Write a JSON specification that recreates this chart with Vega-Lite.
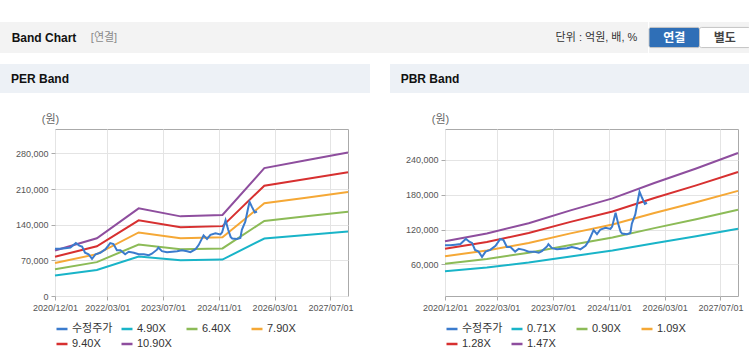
{
  "$schema": "https://vega.github.io/schema/vega-lite/v6.json",
  "background": "#ffffff",
  "padding": {"top": 22, "left": 0, "right": 0, "bottom": 0},
  "config": {
    "font": "Liberation Sans, Noto Sans CJK KR",
    "view": {"stroke": null}
  },
  "datasets": {
    "price": [
      {"date": "2020/12/01", "value": 93000},
      {"date": "2021/01/15", "value": 93000},
      {"date": "2021/03/01", "value": 94000},
      {"date": "2021/04/15", "value": 95000},
      {"date": "2021/06/01", "value": 104000},
      {"date": "2021/07/01", "value": 99000},
      {"date": "2021/07/25", "value": 97000},
      {"date": "2021/08/20", "value": 85000},
      {"date": "2021/09/20", "value": 82000},
      {"date": "2021/10/20", "value": 73000},
      {"date": "2021/11/20", "value": 82000},
      {"date": "2021/12/31", "value": 85000},
      {"date": "2022/02/15", "value": 92000},
      {"date": "2022/03/28", "value": 104000},
      {"date": "2022/04/25", "value": 102000},
      {"date": "2022/05/25", "value": 90000},
      {"date": "2022/06/25", "value": 90000},
      {"date": "2022/08/05", "value": 82000},
      {"date": "2022/09/05", "value": 87000},
      {"date": "2022/10/20", "value": 85000},
      {"date": "2022/12/01", "value": 82000},
      {"date": "2023/01/15", "value": 82000},
      {"date": "2023/02/27", "value": 80000},
      {"date": "2023/03/26", "value": 83000},
      {"date": "2023/05/10", "value": 91000},
      {"date": "2023/05/22", "value": 95000},
      {"date": "2023/06/22", "value": 88000},
      {"date": "2023/08/05", "value": 86000},
      {"date": "2023/09/20", "value": 87000},
      {"date": "2023/11/01", "value": 88000},
      {"date": "2023/12/13", "value": 90000},
      {"date": "2024/01/28", "value": 88000},
      {"date": "2024/02/25", "value": 86000},
      {"date": "2024/04/10", "value": 92000},
      {"date": "2024/05/07", "value": 100000},
      {"date": "2024/06/19", "value": 119000},
      {"date": "2024/07/19", "value": 112000},
      {"date": "2024/08/18", "value": 120000},
      {"date": "2024/10/01", "value": 123000},
      {"date": "2024/11/13", "value": 121000},
      {"date": "2024/11/28", "value": 125000},
      {"date": "2024/12/28", "value": 149000},
      {"date": "2025/01/20", "value": 130000},
      {"date": "2025/02/10", "value": 116000},
      {"date": "2025/02/24", "value": 113000},
      {"date": "2025/04/07", "value": 112000},
      {"date": "2025/05/06", "value": 114000},
      {"date": "2025/05/19", "value": 130000},
      {"date": "2025/06/18", "value": 146000},
      {"date": "2025/07/12", "value": 172000},
      {"date": "2025/07/25", "value": 185000},
      {"date": "2025/08/15", "value": 175000},
      {"date": "2025/09/09", "value": 164000},
      {"date": "2025/09/28", "value": 166000}
    ],
    "perBands": [
      {"date": "2020/12/01", "series": "4.90X", "value": 40180},
      {"date": "2021/12/01", "series": "4.90X", "value": 50960},
      {"date": "2022/12/01", "series": "4.90X", "value": 77420},
      {"date": "2023/12/01", "series": "4.90X", "value": 70320},
      {"date": "2024/12/01", "series": "4.90X", "value": 71540},
      {"date": "2025/12/01", "series": "4.90X", "value": 112950},
      {"date": "2026/12/01", "series": "4.90X", "value": 119810},
      {"date": "2027/12/01", "series": "4.90X", "value": 126670},
      {"date": "2020/12/01", "series": "6.40X", "value": 52480},
      {"date": "2021/12/01", "series": "6.40X", "value": 66560},
      {"date": "2022/12/01", "series": "6.40X", "value": 101120},
      {"date": "2023/12/01", "series": "6.40X", "value": 91840},
      {"date": "2024/12/01", "series": "6.40X", "value": 93440},
      {"date": "2025/12/01", "series": "6.40X", "value": 147520},
      {"date": "2026/12/01", "series": "6.40X", "value": 156480},
      {"date": "2027/12/01", "series": "6.40X", "value": 165440},
      {"date": "2020/12/01", "series": "7.90X", "value": 64780},
      {"date": "2021/12/01", "series": "7.90X", "value": 82160},
      {"date": "2022/12/01", "series": "7.90X", "value": 124820},
      {"date": "2023/12/01", "series": "7.90X", "value": 113370},
      {"date": "2024/12/01", "series": "7.90X", "value": 115340},
      {"date": "2025/12/01", "series": "7.90X", "value": 182100},
      {"date": "2026/12/01", "series": "7.90X", "value": 193160},
      {"date": "2027/12/01", "series": "7.90X", "value": 204220},
      {"date": "2020/12/01", "series": "9.40X", "value": 77080},
      {"date": "2021/12/01", "series": "9.40X", "value": 97760},
      {"date": "2022/12/01", "series": "9.40X", "value": 148520},
      {"date": "2023/12/01", "series": "9.40X", "value": 134890},
      {"date": "2024/12/01", "series": "9.40X", "value": 137240},
      {"date": "2025/12/01", "series": "9.40X", "value": 216670},
      {"date": "2026/12/01", "series": "9.40X", "value": 229830},
      {"date": "2027/12/01", "series": "9.40X", "value": 242990},
      {"date": "2020/12/01", "series": "10.90X", "value": 89380},
      {"date": "2021/12/01", "series": "10.90X", "value": 113360},
      {"date": "2022/12/01", "series": "10.90X", "value": 172220},
      {"date": "2023/12/01", "series": "10.90X", "value": 156420},
      {"date": "2024/12/01", "series": "10.90X", "value": 159140},
      {"date": "2025/12/01", "series": "10.90X", "value": 251250},
      {"date": "2026/12/01", "series": "10.90X", "value": 266510},
      {"date": "2027/12/01", "series": "10.90X", "value": 281770}
    ],
    "pbrBands": [
      {"date": "2020/12/01", "series": "0.71X", "value": 48280},
      {"date": "2021/12/01", "series": "0.71X", "value": 54670},
      {"date": "2022/12/01", "series": "0.71X", "value": 63190},
      {"date": "2023/12/01", "series": "0.71X", "value": 73840},
      {"date": "2024/12/01", "series": "0.71X", "value": 83780},
      {"date": "2025/12/01", "series": "0.71X", "value": 96560},
      {"date": "2026/12/01", "series": "0.71X", "value": 108630},
      {"date": "2027/12/01", "series": "0.71X", "value": 121410},
      {"date": "2020/12/01", "series": "0.90X", "value": 61200},
      {"date": "2021/12/01", "series": "0.90X", "value": 69300},
      {"date": "2022/12/01", "series": "0.90X", "value": 80100},
      {"date": "2023/12/01", "series": "0.90X", "value": 93600},
      {"date": "2024/12/01", "series": "0.90X", "value": 106200},
      {"date": "2025/12/01", "series": "0.90X", "value": 122400},
      {"date": "2026/12/01", "series": "0.90X", "value": 137700},
      {"date": "2027/12/01", "series": "0.90X", "value": 153900},
      {"date": "2020/12/01", "series": "1.09X", "value": 74120},
      {"date": "2021/12/01", "series": "1.09X", "value": 83930},
      {"date": "2022/12/01", "series": "1.09X", "value": 97010},
      {"date": "2023/12/01", "series": "1.09X", "value": 113360},
      {"date": "2024/12/01", "series": "1.09X", "value": 128620},
      {"date": "2025/12/01", "series": "1.09X", "value": 148240},
      {"date": "2026/12/01", "series": "1.09X", "value": 166770},
      {"date": "2027/12/01", "series": "1.09X", "value": 186390},
      {"date": "2020/12/01", "series": "1.28X", "value": 87040},
      {"date": "2021/12/01", "series": "1.28X", "value": 98560},
      {"date": "2022/12/01", "series": "1.28X", "value": 113920},
      {"date": "2023/12/01", "series": "1.28X", "value": 133120},
      {"date": "2024/12/01", "series": "1.28X", "value": 151040},
      {"date": "2025/12/01", "series": "1.28X", "value": 174080},
      {"date": "2026/12/01", "series": "1.28X", "value": 195840},
      {"date": "2027/12/01", "series": "1.28X", "value": 218880},
      {"date": "2020/12/01", "series": "1.47X", "value": 99960},
      {"date": "2021/12/01", "series": "1.47X", "value": 113190},
      {"date": "2022/12/01", "series": "1.47X", "value": 130830},
      {"date": "2023/12/01", "series": "1.47X", "value": 152880},
      {"date": "2024/12/01", "series": "1.47X", "value": 173460},
      {"date": "2025/12/01", "series": "1.47X", "value": 199920},
      {"date": "2026/12/01", "series": "1.47X", "value": 224910},
      {"date": "2027/12/01", "series": "1.47X", "value": 251370}
    ],
    "buttons": [
      {"label": "연결", "row": "r"},
      {"label": "별도", "row": "r"}
    ]
  },
  "vconcat": [
    {
      "hconcat": [
        {
          "width": 88, "height": 31,
          "view": {"fill": "#f3f3f3", "stroke": null},
          "data": {"values": [{"t": "Band Chart"}]},
          "mark": {"type": "text", "fontWeight": "bold", "fontSize": 12, "color": "#111111"},
          "encoding": {"text": {"field": "t", "type": "nominal"}}
        },
        {
          "width": 32, "height": 31,
          "view": {"fill": "#f3f3f3", "stroke": null},
          "data": {"values": [{"t": "[연결]"}]},
          "mark": {"type": "text", "fontSize": 11, "color": "#8a8a8a"},
          "encoding": {"text": {"field": "t", "type": "nominal"}}
        },
        {
          "width": 425, "height": 31,
          "view": {"fill": "#f3f3f3", "stroke": null},
          "data": {"values": []},
          "mark": {"type": "text"}
        },
        {
          "width": 103, "height": 31,
          "view": {"fill": "#f3f3f3", "stroke": null},
          "data": {"values": [{"t": "단위 : 억원, 배, %"}]},
          "mark": {"type": "text", "fontSize": 11, "color": "#333333"},
          "encoding": {"text": {"field": "t", "type": "nominal"}}
        },
        {
          "width": 101, "height": 31,
          "view": {"fill": "#f3f3f3", "stroke": null},
          "data": {"name": "buttons"},
          "encoding": {
            "x": {"field": "label", "type": "nominal", "sort": null, "axis": null, "scale": {"paddingInner": 0, "paddingOuter": 0}},
            "y": {"field": "row", "type": "nominal", "axis": null, "scale": {"paddingOuter": 0.27, "paddingInner": 0}}
          },
          "layer": [
            {
              "mark": {"type": "rect", "stroke": "#c4c4c4", "strokeWidth": 1, "cornerRadius": 2},
              "encoding": {
                "fill": {"field": "label", "type": "nominal", "scale": {"domain": ["연결", "별도"], "range": ["#2f6fb7", "#ffffff"]}, "legend": null}
              }
            },
            {
              "mark": {"type": "text", "fontSize": 12, "fontWeight": "bold"},
              "encoding": {
                "text": {"field": "label", "type": "nominal"},
                "color": {"condition": {"test": "datum.label === '연결'", "value": "#ffffff"}, "value": "#444444"}
              }
            }
          ]
        }
      ],
      "spacing": 0
    },
    {
      "hconcat": [
        {
          "vconcat": [
            {
              "hconcat": [
                {
                  "width": 80, "height": 29,
                  "view": {"fill": "#edf1f6", "stroke": null},
                  "data": {"values": [{"t": "PER Band"}]},
                  "mark": {"type": "text", "fontWeight": "bold", "fontSize": 12, "color": "#111111"},
                  "encoding": {"text": {"field": "t", "type": "nominal"}}
                },
                {
                  "width": 290, "height": 29,
                  "view": {"fill": "#edf1f6", "stroke": null},
                  "data": {"values": []},
                  "mark": {"type": "text"}
                }
              ],
              "spacing": 0
            },
            {
              "hconcat": [
                {
                  "width": 1, "height": 1,
                  "data": {"values": []},
                  "mark": {"type": "text"}
                },
                {
                  "width": 293, "height": 167,
                  "view": {"stroke": "#aaaaaa", "fill": "#ffffff"},
                  "encoding": {
                    "x": {
                      "field": "date", "type": "temporal",
                      "scale": {"domain": [{"year": 2020, "month": 12, "date": 1}, {"year": 2027, "month": 12, "date": 1}]},
                      "axis": {
                        "values": [{"year": 2020, "month": 12, "date": 1}, {"year": 2022, "month": 3, "date": 1}, {"year": 2023, "month": 7, "date": 1}, {"year": 2024, "month": 11, "date": 1}, {"year": 2026, "month": 3, "date": 1}, {"year": 2027, "month": 7, "date": 1}],
                        "format": "%Y/%m/%d", "title": null, "domain": false,
                        "labelFontSize": 9, "labelColor": "#555555", "labelPadding": 3, "labelFlush": false, "labelOverlap": false,
                        "tickSize": 4, "tickColor": "#aaaaaa", "gridColor": "#e4e4e4"
                      }
                    },
                    "y": {
                      "field": "value", "type": "quantitative",
                      "scale": {"domain": [0, 328000], "nice": false, "zero": false},
                      "axis": {
                        "values": [0, 70000, 140000, 210000, 280000], "format": ",.0f", "domain": false,
                        "labelFontSize": 9, "labelColor": "#555555", "labelPadding": 3, "labelFlush": false,
                        "tickSize": 4, "tickColor": "#aaaaaa", "gridColor": "#e4e4e4",
                        "minExtent": 53, "maxExtent": 53,
                        "title": "(원)", "titleAngle": 0, "titleX": -5, "titleY": -7, "titleAlign": "center", "titleBaseline": "alphabetic",
                        "titleFontWeight": "normal", "titleFontSize": 11, "titleColor": "#666666"
                      }
                    }
                  },
                  "layer": [
                    {
                      "data": {"name": "perBands"},
                      "mark": {"type": "line", "strokeWidth": 2},
                      "encoding": {
                        "color": {
                          "field": "series", "type": "nominal",
                          "scale": {"domain": ["수정주가", "4.90X", "6.40X", "7.90X", "9.40X", "10.90X"], "range": ["#3b7bcd", "#19b4c8", "#8cbb57", "#f5a836", "#d73030", "#8e4e9e"]},
                          "legend": {
                            "orient": "bottom", "direction": "horizontal", "columns": 4, "title": null,
                            "symbolType": "stroke", "symbolSize": 121, "symbolStrokeWidth": 2.5,
                            "labelFontSize": 11, "labelColor": "#333333", "labelOffset": 3,
                            "gridAlign": "all", "columnPadding": 3, "rowPadding": 3, "offset": 10
                          }
                        }
                      }
                    },
                    {
                      "data": {"name": "price"},
                      "mark": {"type": "line", "strokeWidth": 2},
                      "encoding": {"color": {"datum": "수정주가", "type": "nominal"}}
                    }
                  ]
                }
              ],
              "spacing": 0,
              "resolve": {"scale": {"color": "independent"}}
            }
          ],
          "spacing": 19,
          "resolve": {"scale": {"color": "independent"}}
        },
        {
          "vconcat": [
            {
              "hconcat": [
                {
                  "width": 80, "height": 29,
                  "view": {"fill": "#edf1f6", "stroke": null},
                  "data": {"values": [{"t": "PBR Band"}]},
                  "mark": {"type": "text", "fontWeight": "bold", "fontSize": 12, "color": "#111111"},
                  "encoding": {"text": {"field": "t", "type": "nominal"}}
                },
                {
                  "width": 279, "height": 29,
                  "view": {"fill": "#edf1f6", "stroke": null},
                  "data": {"values": []},
                  "mark": {"type": "text"}
                }
              ],
              "spacing": 0
            },
            {
              "hconcat": [
                {
                  "width": 1, "height": 1,
                  "data": {"values": []},
                  "mark": {"type": "text"}
                },
                {
                  "width": 293, "height": 167,
                  "view": {"stroke": "#aaaaaa", "fill": "#ffffff"},
                  "encoding": {
                    "x": {
                      "field": "date", "type": "temporal",
                      "scale": {"domain": [{"year": 2020, "month": 12, "date": 1}, {"year": 2027, "month": 12, "date": 1}]},
                      "axis": {
                        "values": [{"year": 2020, "month": 12, "date": 1}, {"year": 2022, "month": 3, "date": 1}, {"year": 2023, "month": 7, "date": 1}, {"year": 2024, "month": 11, "date": 1}, {"year": 2026, "month": 3, "date": 1}, {"year": 2027, "month": 7, "date": 1}],
                        "format": "%Y/%m/%d", "title": null, "domain": false,
                        "labelFontSize": 9, "labelColor": "#555555", "labelPadding": 3, "labelFlush": false, "labelOverlap": false,
                        "tickSize": 4, "tickColor": "#aaaaaa", "gridColor": "#e4e4e4"
                      }
                    },
                    "y": {
                      "field": "value", "type": "quantitative",
                      "scale": {"domain": [5800, 292700], "nice": false, "zero": false},
                      "axis": {
                        "values": [60000, 120000, 180000, 240000], "format": ",.0f", "domain": false,
                        "labelFontSize": 9, "labelColor": "#555555", "labelPadding": 3, "labelFlush": false,
                        "tickSize": 4, "tickColor": "#aaaaaa", "gridColor": "#e4e4e4",
                        "minExtent": 53, "maxExtent": 53,
                        "title": "(원)", "titleAngle": 0, "titleX": -5, "titleY": -7, "titleAlign": "center", "titleBaseline": "alphabetic",
                        "titleFontWeight": "normal", "titleFontSize": 11, "titleColor": "#666666"
                      }
                    }
                  },
                  "layer": [
                    {
                      "data": {"name": "pbrBands"},
                      "mark": {"type": "line", "strokeWidth": 2},
                      "encoding": {
                        "color": {
                          "field": "series", "type": "nominal",
                          "scale": {"domain": ["수정주가", "0.71X", "0.90X", "1.09X", "1.28X", "1.47X"], "range": ["#3b7bcd", "#19b4c8", "#8cbb57", "#f5a836", "#d73030", "#8e4e9e"]},
                          "legend": {
                            "orient": "bottom", "direction": "horizontal", "columns": 4, "title": null,
                            "symbolType": "stroke", "symbolSize": 121, "symbolStrokeWidth": 2.5,
                            "labelFontSize": 11, "labelColor": "#333333", "labelOffset": 3,
                            "gridAlign": "all", "columnPadding": 3, "rowPadding": 3, "offset": 10
                          }
                        }
                      }
                    },
                    {
                      "data": {"name": "price"},
                      "mark": {"type": "line", "strokeWidth": 2},
                      "encoding": {"color": {"datum": "수정주가", "type": "nominal"}}
                    }
                  ]
                }
              ],
              "spacing": 0,
              "resolve": {"scale": {"color": "independent"}}
            }
          ],
          "spacing": 19,
          "resolve": {"scale": {"color": "independent"}}
        }
      ],
      "spacing": 20,
      "resolve": {"scale": {"color": "independent", "x": "independent", "y": "independent"}}
    }
  ],
  "spacing": 11,
  "resolve": {"scale": {"color": "independent", "fill": "independent"}}
}
